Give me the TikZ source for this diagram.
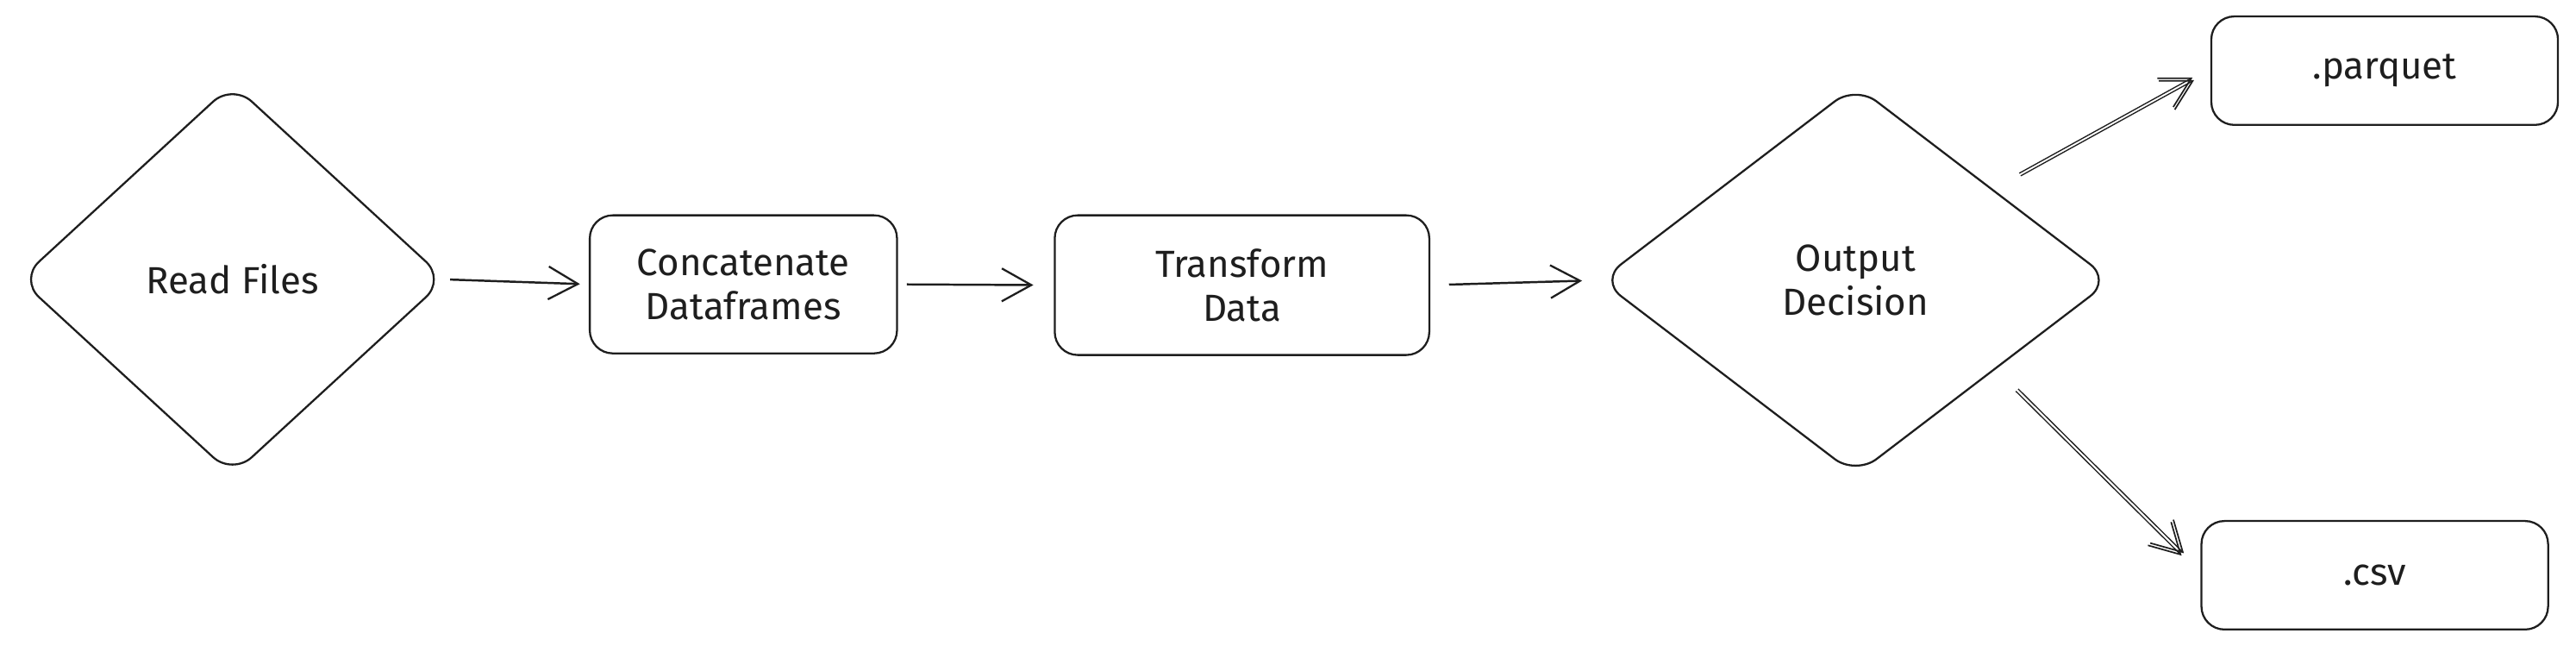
\documentclass[tikz,border=0pt]{standalone}
\usepackage{fontspec}
\setmainfont{Fira Sans}
\usetikzlibrary{shapes.geometric,arrows.meta}
\definecolor{ink}{HTML}{1E1E1E}
\begin{document}
\begin{tikzpicture}[x=1pt,y=-1pt,
  inkline/.style={draw=ink, line width=1.2pt},
  lbl/.style={align=center, text=ink, font=\fontsize{23}{27}\selectfont},
  dia/.style={inkline, lbl, diamond, rounded corners=16pt, inner sep=0pt, outer sep=0pt},
  rbox/.style={inkline, lbl, rectangle, rounded corners=14pt, inner sep=0pt, outer sep=0pt},
  conn/.style={draw=ink, line width=1.3pt, -{Straight Barb[length=18pt,width=20pt,line width=1.2pt]}},
  dconn/.style={draw=ink, line width=0.7pt, -{Straight Barb[length=18pt,width=20pt,line width=0.9pt]},
    preaction={draw=ink, line width=0.7pt, transform canvas={shift={#1}}}}
]
\useasboundingbox (0,0) rectangle (1568,393);

\node[dia, minimum width=259pt, minimum height=238pt] (rf) at (141.5,170) {Read Files};
\node[rbox, minimum width=187pt, minimum height=84pt] (cc) at (452.5,173) {Concatenate\\Dataframes};
\node[rbox, minimum width=228pt, minimum height=85pt] (tr) at (756,173.5) {Transform\\Data};
\node[dia, minimum width=311pt, minimum height=237pt] (od) at (1129.5,170.5) {Output\\Decision};
\node[rbox, minimum width=211pt, minimum height=66pt] (pq) at (1451.5,43) {.parquet};
\node[rbox, minimum width=211pt, minimum height=66pt] (cs) at (1445.5,350) {.csv};

\coordinate (o1) at (1230,107);
\coordinate (o2) at (1227,238);

\draw[conn, shorten <=3pt, shorten >=6pt] (rf.east) -- (cc.west);
\draw[conn, shorten <=6pt, shorten >=13pt] (cc.east) -- (tr.west);
\draw[conn, shorten <=12pt, shorten >=11pt] (tr.east) -- (od.west);
\draw[dconn={(-0.9pt,1.6pt)}, shorten >=12pt] (o1) -- (pq.west);
\draw[dconn={(1.4pt,1.4pt)}, shorten >=17pt] (o2) -- (cs.west);
\end{tikzpicture}
\end{document}
